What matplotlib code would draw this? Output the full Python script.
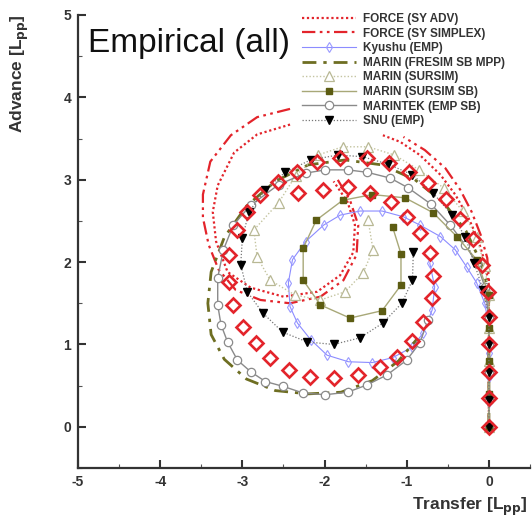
import numpy as np
import matplotlib
matplotlib.use("Agg")
import matplotlib.pyplot as plt
from matplotlib.ticker import MultipleLocator

plt.rcParams['font.family'] = ['Liberation Sans', 'DejaVu Sans']
plt.rcParams['axes.unicode_minus'] = False

nan = np.nan

# Measured trajectory (open red diamonds, not in legend)
efd_x = [0, 0, 0, 0, 0, -0.01, -0.08, -0.19, -0.35, -0.52, -0.74, -0.97, -1.21, -1.48, -1.81,
         -2.09, -2.34, -2.57, -2.78, -2.94, -3.06, -3.16, -3.16, -3.12, -2.99, -2.84, -2.66,
         -2.43, -2.18, -1.89, -1.59, -1.32, -1.12, -0.93, -0.80, -0.69, -0.68, -0.72, -0.84,
         -1.00, -1.19, -1.45, -1.72, -2.02, -2.32]
efd_y = [0, 0.35, 0.67, 1.00, 1.33, 1.64, 1.97, 2.28, 2.52, 2.77, 2.96, 3.09, 3.20, 3.26, 3.26,
         3.21, 3.09, 2.97, 2.82, 2.61, 2.39, 2.09, 1.76, 1.48, 1.21, 1.02, 0.83, 0.69, 0.61,
         0.59, 0.63, 0.73, 0.85, 1.04, 1.27, 1.57, 1.83, 2.11, 2.35, 2.55, 2.73, 2.84, 2.91,
         2.87, 2.84]

force_adv_x = [0, 0, -0.05, -0.13, -0.25, -0.41, -0.59, -0.84, -1.08, -1.29, nan,
               -2.42, -2.82, -3.10, -3.30, -3.36, -3.32, -3.18, -2.90, -2.50, -2.09, -1.81,
               -1.65, -1.63, -1.72, -1.89]
force_adv_y = [0, 1.72, 2.00, 2.27, 2.54, 2.82, 3.06, 3.30, 3.46, 3.54, nan,
               3.67, 3.55, 3.33, 2.93, 2.61, 2.25, 1.88, 1.69, 1.58, 1.64, 1.84,
               2.12, 2.45, 2.73, 2.98]

force_simplex_x = [0, 0, -0.02, -0.10, -0.21, -0.35, -0.53, -0.78, -1.04, nan,
                   -2.42, -2.82, -3.14, -3.39, -3.48, -3.48, -3.41, -3.29, -3.08, -2.78,
                   -2.42, -2.05, -1.77, -1.61, -1.59, -1.69, -1.84]
force_simplex_y = [0, 1.78, 2.05, 2.33, 2.61, 2.88, 3.14, 3.36, 3.52, nan,
                   3.86, 3.76, 3.54, 3.22, 2.82, 2.54, 2.21, 1.91, 1.66, 1.54,
                   1.50, 1.58, 1.78, 2.09, 2.45, 2.75, 3.00]

kyushu_x = [0, 0, 0, 0, 0, -0.05, -0.15, -0.27, -0.41, -0.59, -0.84, -1.04, -1.30, -1.57,
            -1.81, -2.01, -2.23, -2.39, -2.44, -2.42, -2.33, -2.17, -1.97, -1.71, -1.42,
            -1.17, -0.93, -0.80, -0.69, -0.66, -0.72]
kyushu_y = [0, 0.3, 0.6, 0.9, 1.2, 1.50, 1.75, 1.94, 2.15, 2.31, 2.45, 2.55, 2.62, 2.62,
            2.57, 2.45, 2.25, 2.03, 1.75, 1.46, 1.26, 1.06, 0.87, 0.79, 0.78,
            0.84, 0.97, 1.14, 1.42, 1.70, 1.99]

fresim_x = [0, 0, -0.10, -0.28, -0.55, -0.90, -1.30, -1.75, -2.20, -2.60, -2.95, -3.22,
            -3.38, -3.42, -3.38, -3.22, -2.95, -2.60, -2.20, -1.80, -1.42, -1.10, -0.88]
fresim_y = [0, 1.65, 2.00, 2.38, 2.72, 3.00, 3.18, 3.24, 3.18, 2.98, 2.68, 2.30,
            1.88, 1.50, 1.12, 0.82, 0.58, 0.44, 0.40, 0.42, 0.56, 0.80, 1.06]

sursim_x = [0, 0, 0, 0, 0, -0.05, -0.15, -0.32, -0.55, -0.85, -1.15, -1.47, -1.78, -2.08,
            -2.35, -2.56, -2.86, -2.82, -2.66, -2.36, -2.05, -1.75, -1.53, -1.41, -1.47]
sursim_y = [0, 0.4, 0.8, 1.2, 1.6, 1.95, 2.3, 2.62, 2.9, 3.12, 3.30, 3.40, 3.40, 3.30,
            3.05, 2.72, 2.39, 2.06, 1.78, 1.60, 1.54, 1.64, 1.87, 2.15, 2.51]

sursim_sb_x = [0, 0, 0, 0, 0, -0.15, -0.39, -0.68, -1.02, -1.42, -1.78, -2.10, -2.26,
               -2.26, -2.05, -1.69, -1.30, -1.07, -1.07, -1.17]
sursim_sb_y = [0, 0.4, 0.8, 1.2, 1.6, 2.03, 2.31, 2.60, 2.78, 2.82, 2.75, 2.51, 2.17,
               1.78, 1.48, 1.32, 1.41, 1.72, 2.10, 2.42]

marintek_x = [0, 0, 0, 0, 0, -0.05, -0.15, -0.29, -0.47, -0.70, -0.98, -1.20, -1.48, -1.72,
              -1.99, -2.23, -2.56, -2.90, -3.11, -3.23, -3.30, -3.30, -3.26, -3.18, -3.06,
              -2.90, -2.72, -2.50, -2.26, -1.99, -1.72, -1.48, -1.24, -1.00, -0.84, -0.74]
marintek_y = [0, 0.33, 0.67, 1.0, 1.33, 1.70, 1.99, 2.21, 2.45, 2.70, 2.90, 3.02, 3.09, 3.12,
              3.12, 3.08, 2.94, 2.69, 2.45, 2.15, 1.81, 1.48, 1.24, 1.03, 0.81,
              0.67, 0.55, 0.49, 0.41, 0.39, 0.42, 0.51, 0.63, 0.81, 1.02, 1.30]

snu_x = [0, 0, 0, 0, 0, -0.07, -0.18, -0.29, -0.45, -0.68, -0.93, -1.23, -1.54, -1.84,
         -2.17, -2.48, -2.72, -2.92, -3.00, -3.02, -2.94, -2.75, -2.51, -2.21, -1.89,
         -1.57, -1.29, -1.06, -0.93, -0.92]
snu_y = [0, 0.33, 0.67, 1.0, 1.33, 1.66, 1.99, 2.31, 2.57, 2.84, 3.06, 3.19, 3.28, 3.30,
         3.24, 3.09, 2.88, 2.61, 2.29, 1.97, 1.64, 1.38, 1.15, 1.03, 1.00,
         1.08, 1.26, 1.50, 1.78, 2.12]

labels = ["FORCE (SY ADV)", "FORCE (SY SIMPLEX)", "Kyushu (EMP)", "MARIN (FRESIM SB MPP)",
          "MARIN (SURSIM)", "MARIN (SURSIM SB)", "MARINTEK (EMP SB)", "SNU (EMP)"]

fig = plt.figure(figsize=(5.32, 5.19), dpi=100)
ax = fig.add_axes([78 / 532, 1 - 468 / 519, 452 / 532, 453 / 519])

red = '#e3242b'
ax.plot(force_adv_x, force_adv_y, color=red, lw=1.6, linestyle=(0, (1, 1.2)), label=labels[0], zorder=3)
ax.plot(force_simplex_x, force_simplex_y, color=red, lw=1.6,
        linestyle=(0, (6, 2, 1.2, 2, 1.2, 2)), label=labels[1], zorder=3)
ax.plot(kyushu_x, kyushu_y, color='#8c8cff', lw=0.8, marker='d', ms=5, mfc='none',
        mec='#9a9aff', mew=0.8, label=labels[2], zorder=4)
ax.plot(fresim_x, fresim_y, color='#6e6e22', lw=2.0, linestyle=(0, (5, 2.5, 1.2, 2.5)),
        label=labels[3], zorder=4)
ax.plot(sursim_x, sursim_y, color='#c4c4a0', lw=1.0, linestyle=(0, (1, 1.5)), marker='^',
        ms=6.5, mfc='white', mec='#b8b894', mew=0.9, label=labels[4], zorder=4)
ax.plot(sursim_sb_x, sursim_sb_y, color='#a8a878', lw=1.0, marker='s', ms=4.5,
        mfc='#5c5c12', mec='#5c5c12', label=labels[5], zorder=5)
ax.plot(marintek_x, marintek_y, color='#8a8a8a', lw=1.0, marker='o', ms=6, mfc='white',
        mec='#8a8a8a', mew=0.9, label=labels[6], zorder=4)
ax.plot(snu_x, snu_y, color='#777777', lw=0.9, linestyle=(0, (1, 1.5)), marker='v', ms=5.5,
        mfc='black', mec='black', label=labels[7], zorder=5)
ax.plot(efd_x, efd_y, linestyle='none', marker='D', ms=7.5, mfc='none', mec=red, mew=1.9,
        label='_nolegend_', zorder=6)

ax.set_xlim(-5, 0.5)
ax.set_ylim(-0.5, 5)
ax.xaxis.set_major_locator(MultipleLocator(1))
ax.yaxis.set_major_locator(MultipleLocator(1))
ax.xaxis.set_minor_locator(MultipleLocator(0.5))
ax.yaxis.set_minor_locator(MultipleLocator(0.5))
for s in ['top', 'right']:
    ax.spines[s].set_visible(False)
for s in ['left', 'bottom']:
    ax.spines[s].set_linewidth(1.6)
    ax.spines[s].set_color('#333333')
ax.tick_params(which='major', direction='in', length=6, width=1.5, color='#333333',
               labelsize=10, labelcolor='#333333', pad=5)
ax.tick_params(which='minor', direction='in', length=3, width=0.8, color='#555555')
for lab in ax.get_xticklabels() + ax.get_yticklabels():
    lab.set_fontweight('bold')

fig.text(88 / 532, 1 - 52 / 519, "Empirical (all)", fontsize=24, color='#111111',
         ha='left', va='baseline')
fig.text(20 / 532, 1 - 14 / 519, r"Advance [L$_{\mathbf{pp}}$]", rotation=90, fontsize=12.5,
         fontweight='bold', color='#333333', ha='center', va='top')
fig.text(528 / 532, 1 - 507 / 519, r"Transfer [L$_{\mathbf{pp}}$]", fontsize=12.5,
         fontweight='bold', color='#333333', ha='right', va='center')

leg = ax.legend(loc='upper left', bbox_to_anchor=(302 / 532, 1 - 13 / 519),
                bbox_transform=fig.transFigure, frameon=False,
                handlelength=4.6, handletextpad=0.6, labelspacing=0.22, borderpad=0,
                borderaxespad=0, prop={'weight': 'bold', 'size': 8.5})
for t in leg.get_texts():
    t.set_color('#333333')

fig.savefig("out.png", dpi=100, facecolor='white')
